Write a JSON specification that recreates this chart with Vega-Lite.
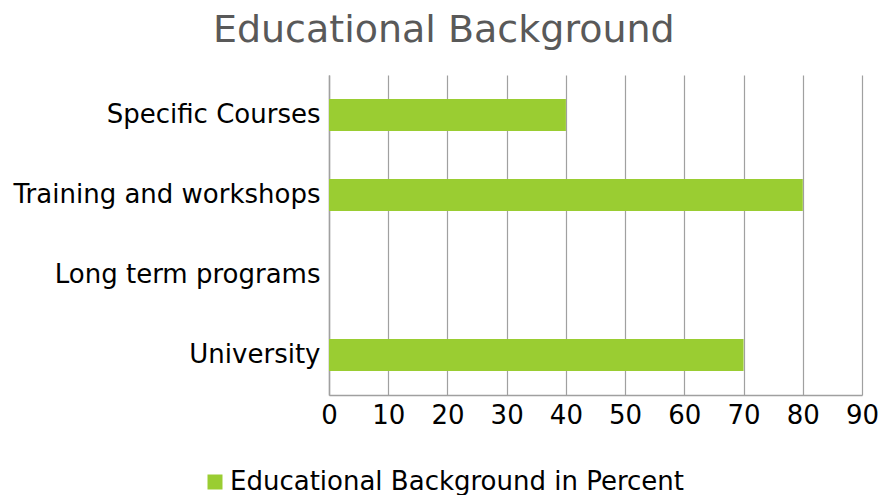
{
  "$schema": "https://vega.github.io/schema/vega-lite/v6.json",
  "width": 533,
  "height": 320,
  "autosize": {"type": "none"},
  "padding": {"left": 329, "top": 75, "right": 18, "bottom": 100},
  "background": "white",
  "config": {
    "font": "DejaVu Sans",
    "view": {"stroke": null}
  },
  "title": {
    "text": "Educational Background",
    "fontSize": 38,
    "fontWeight": "normal",
    "color": "#595959",
    "anchor": "middle",
    "frame": "bounds",
    "baseline": "alphabetic",
    "offset": -5,
    "dx": -2
  },
  "data": {
    "values": [
      {"category": "Specific Courses", "value": 40, "series": "Educational Background in Percent"},
      {"category": "Training and workshops", "value": 80, "series": "Educational Background in Percent"},
      {"category": "Long term programs", "value": 0, "series": "Educational Background in Percent"},
      {"category": "University", "value": 70, "series": "Educational Background in Percent"}
    ]
  },
  "mark": {"type": "bar"},
  "encoding": {
    "y": {
      "field": "category",
      "type": "nominal",
      "sort": null,
      "scale": {"paddingInner": 0.6, "paddingOuter": 0.3},
      "axis": {
        "title": null,
        "ticks": false,
        "domainColor": "#a0a0a0",
        "domainWidth": 1.5,
        "labelFontSize": 26,
        "labelColor": "#000000",
        "labelPadding": 9,
        "labelLimit": 400
      }
    },
    "x": {
      "field": "value",
      "type": "quantitative",
      "scale": {"domain": [0, 90], "nice": false},
      "axis": {
        "title": null,
        "values": [0, 10, 20, 30, 40, 50, 60, 70, 80, 90],
        "ticks": false,
        "grid": true,
        "gridColor": "#a0a0a0",
        "gridWidth": 1.2,
        "domainColor": "#a0a0a0",
        "domainWidth": 1.5,
        "labelFontSize": 26,
        "labelColor": "#000000",
        "labelPadding": 7,
        "labelFlush": false
      }
    },
    "color": {
      "field": "series",
      "type": "nominal",
      "scale": {"range": ["#9ACD32"]},
      "legend": {
        "title": null,
        "orient": "none",
        "legendX": -127,
        "legendY": 394,
        "padding": 0,
        "symbolType": "square",
        "symbolSize": 225,
        "symbolStrokeWidth": 0,
        "symbolOpacity": 1,
        "labelFontSize": 26,
        "labelColor": "#000000",
        "labelOffset": 2,
        "labelLimit": 600
      }
    }
  }
}
